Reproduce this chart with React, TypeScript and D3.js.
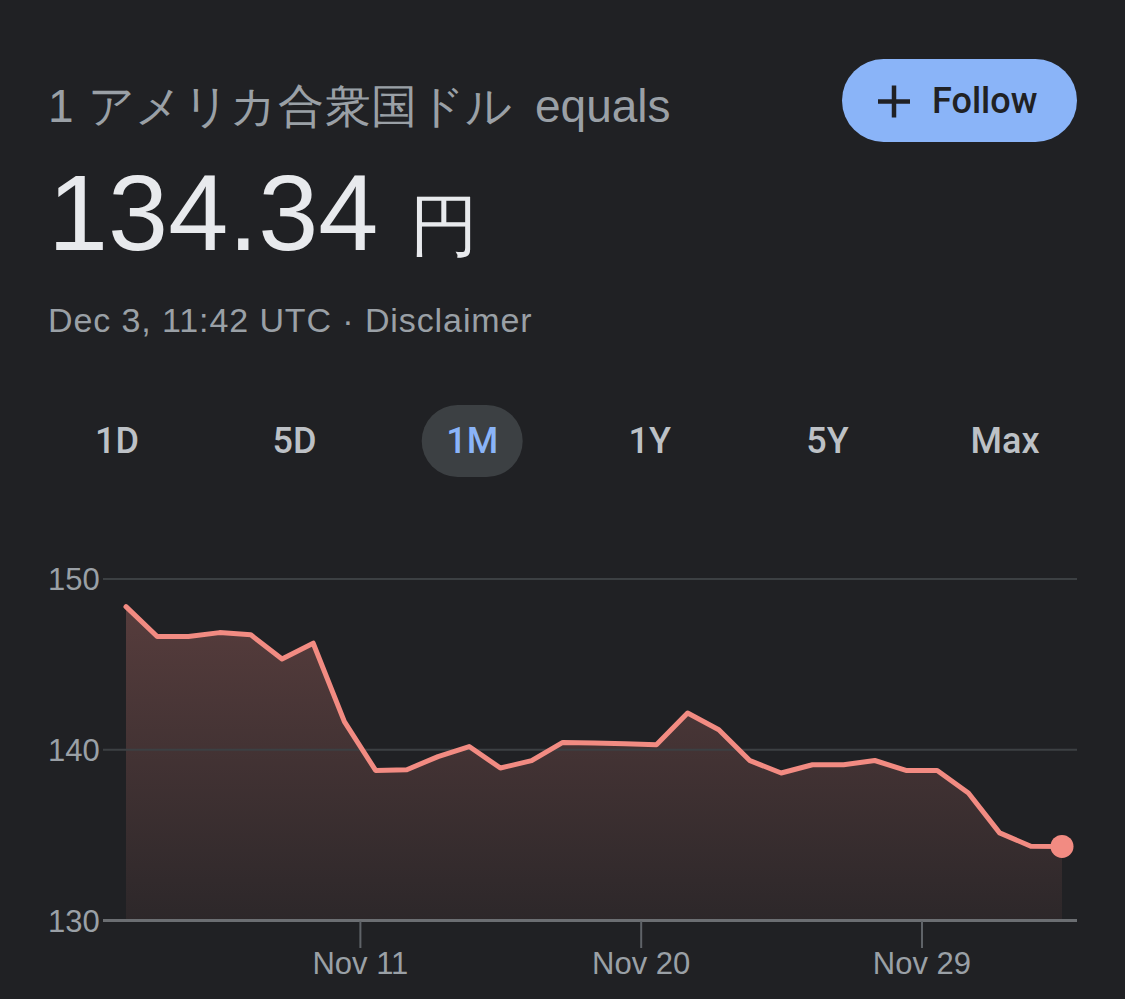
import React from "react";
import * as d3 from "d3";

const W = 1125;
const H = 999;

const dates = [
  "2022-11-03T11:42Z", "2022-11-04T11:42Z", "2022-11-05T11:42Z", "2022-11-06T11:42Z",
  "2022-11-07T11:42Z", "2022-11-08T11:42Z", "2022-11-09T11:42Z", "2022-11-10T11:42Z",
  "2022-11-11T11:42Z", "2022-11-12T11:42Z", "2022-11-13T11:42Z", "2022-11-14T11:42Z",
  "2022-11-15T11:42Z", "2022-11-16T11:42Z", "2022-11-17T11:42Z", "2022-11-18T11:42Z",
  "2022-11-19T11:42Z", "2022-11-20T11:42Z", "2022-11-21T11:42Z", "2022-11-22T11:42Z",
  "2022-11-23T11:42Z", "2022-11-24T11:42Z", "2022-11-25T11:42Z", "2022-11-26T11:42Z",
  "2022-11-27T11:42Z", "2022-11-28T11:42Z", "2022-11-29T11:42Z", "2022-11-30T11:42Z",
  "2022-12-01T11:42Z", "2022-12-02T11:42Z", "2022-12-03T11:42Z",
];

const rates = [
  148.38, 146.63, 146.63, 146.86, 146.73, 145.32, 146.24, 141.65,
  138.79, 138.83, 139.6, 140.19, 138.93, 139.36, 140.43, 140.39,
  140.35, 140.29, 142.15, 141.17, 139.36, 138.64, 139.12, 139.12,
  139.37, 138.79, 138.79, 137.47, 135.13, 134.35, 134.34,
];

const yTicks = [130, 140, 150];
const xTickDates = ["2022-11-11T00:00Z", "2022-11-20T00:00Z", "2022-11-29T00:00Z"];
const ranges = ["1D", "5D", "1M", "1Y", "5Y", "Max"];
const activeRange = "1M";

const titleText = "1 アメリカ合衆国ドル";
const titleTail = "equals";
const priceText = "134.34";
const currencyText = "円";
const stampText = "Dec 3, 11:42 UTC · Disclaimer";

const FONT = "'Liberation Sans', Arial, Helvetica, sans-serif";
const RFONT = "Roboto, 'Liberation Sans', Arial, sans-serif";

export default function App() {
  const data = dates.map((d, i) => ({ date: new Date(d), value: rates[i] }));

  const x = d3
    .scaleTime()
    .domain([data[0].date, data[data.length - 1].date])
    .range([126, 1062]);
  const y = d3.scaleLinear().domain([130, 150]).range([920.5, 579]);

  const line = d3
    .line<{ date: Date; value: number }>()
    .x((d) => x(d.date))
    .y((d) => y(d.value));
  const area = d3
    .area<{ date: Date; value: number }>()
    .x((d) => x(d.date))
    .y0(y(130))
    .y1((d) => y(d.value));

  const fmt = d3.utcFormat("%b %-d");
  const tabX = d3.scalePoint<string>().domain(ranges).range([117, 1005]);
  const last = data[data.length - 1];

  return (
    <div
      style={{
        position: "fixed",
        left: 0,
        top: 0,
        width: W,
        height: H,
        background: "#202124",
      }}
    >
      <svg width={W} height={H} style={{ display: "block" }}>
        <defs>
          <linearGradient id="fillGrad" x1="0" y1="0" x2="0" y2="1">
            <stop offset="0%" stopColor="#f28b82" stopOpacity={0.26} />
            <stop offset="100%" stopColor="#f28b82" stopOpacity={0.06} />
          </linearGradient>
        </defs>
        <rect x={0} y={0} width={W} height={H} fill="#202124" />

        {/* header */}
        <text x={48} y={122} fill="#9aa0a6" fontFamily={FONT} fontSize={46} letterSpacing={0.6}>
          {titleText}
        </text>
        <text x={535} y={122} fill="#9aa0a6" fontFamily={FONT} fontSize={46}>
          {titleTail}
        </text>
        <text x={48} y={250} fill="#e8eaed" fontFamily={FONT} fontSize={108}>
          {priceText}
        </text>
        <text x={410} y={249} fill="#e8eaed" fontFamily={FONT} fontSize={68}>
          {currencyText}
        </text>
        <text x={48} y={332} fill="#9aa0a6" fontFamily={FONT} fontSize={34} letterSpacing={0.9}>
          {stampText}
        </text>

        {/* follow button */}
        <rect x={842} y={59} width={235} height={83} rx={41.5} fill="#8ab4f8" />
        <line x1={878} x2={910} y1={101.5} y2={101.5} stroke="#202124" strokeWidth={4.5} />
        <line x1={894} x2={894} y1={85.5} y2={117.5} stroke="#202124" strokeWidth={4.5} />
        <text x={932} y={113} fill="#202124" fontFamily={RFONT} fontWeight={500} fontSize={36}>
          Follow
        </text>

        {/* range tabs */}
        {ranges.map((r) => {
          const cx = tabX(r) as number;
          const active = r === activeRange;
          return (
            <g key={r}>
              {active && (
                <rect x={cx - 50.5} y={405} width={101} height={72} rx={36} fill="#3c4043" />
              )}
              <text
                x={cx}
                y={453}
                textAnchor="middle"
                fill={active ? "#8ab4f8" : "#bdc1c6"}
                fontFamily={RFONT}
                fontWeight={500}
                fontSize={36}
              >
                {r}
              </text>
            </g>
          );
        })}

        {/* area */}
        <path d={area(data) || ""} fill="url(#fillGrad)" />

        {/* grid */}
        {yTicks.map((t) => (
          <g key={t}>
            <line
              x1={103}
              x2={1077}
              y1={y(t)}
              y2={y(t)}
              stroke={t === 130 ? "#6b6e72" : "#3c4043"}
              strokeWidth={t === 130 ? 3 : 2}
            />
            <text
              x={48}
              y={y(t)}
              dy="0.36em"
              fill="#9aa0a6"
              fontFamily={FONT}
              fontSize={31}
            >
              {t}
            </text>
          </g>
        ))}

        {/* x ticks */}
        {xTickDates.map((s) => {
          const d = new Date(s);
          const px = x(d);
          return (
            <g key={s}>
              <line x1={px} x2={px} y1={921} y2={948} stroke="#5f6368" strokeWidth={2} />
              <text
                x={px}
                y={974}
                textAnchor="middle"
                fill="#9aa0a6"
                fontFamily={FONT}
                fontSize={31}
              >
                {fmt(d)}
              </text>
            </g>
          );
        })}

        {/* line */}
        <path
          d={line(data) || ""}
          fill="none"
          stroke="#f28b82"
          strokeWidth={5}
          strokeLinejoin="round"
          strokeLinecap="round"
        />
        <circle cx={x(last.date)} cy={y(last.value)} r={11.5} fill="#f28b82" />
      </svg>
    </div>
  );
}
